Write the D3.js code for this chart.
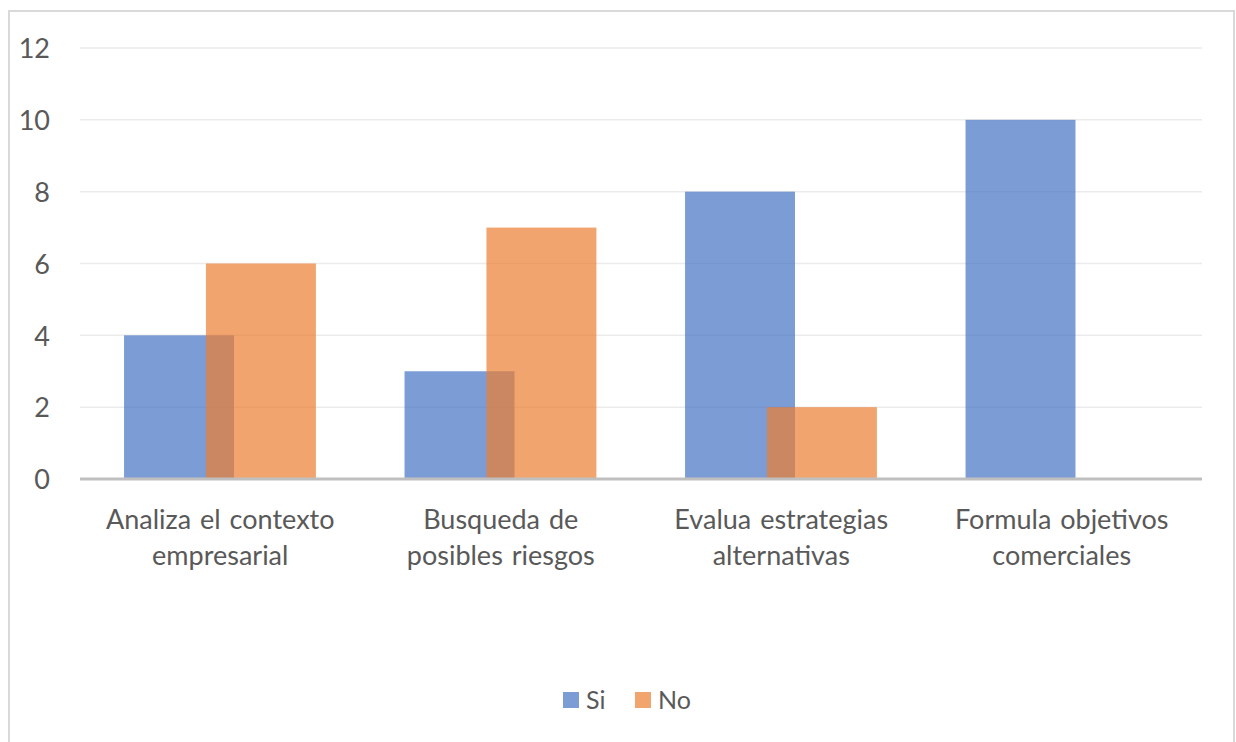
<!DOCTYPE html>
<html><head><meta charset="utf-8">
<script src="https://cdn.jsdelivr.net/npm/d3@7"></script>
<style>body{margin:0;background:#fff;} svg{display:block;} text{font-family:Lato,"Open Sans",sans-serif;fill:#595959;}</style>
</head><body>
<svg id="c" width="1236" height="742"></svg>
<script>
const categories = [["Analiza el contexto","empresarial"],["Busqueda de","posibles riesgos"],["Evalua estrategias","alternativas"],["Formula objetivos","comerciales"]];
const siValues = [4, 3, 8, 10];
const noValues = [6, 7, 2, 0];
const seriesNames = ["Si", "No"];
const yTicks = [0, 2, 4, 6, 8, 10, 12];

const svg = d3.select("#c");
// outer frame
svg.append("rect").attr("x",9).attr("y",11).attr("width",1225).attr("height",760)
  .attr("fill","none").attr("stroke","#d9d9d9").attr("stroke-width",2);

const plotL = 80, plotR = 1202, plotT = 48, plotB = 479;
const x = d3.scaleBand().domain(d3.range(categories.length)).range([plotL, plotR]).paddingInner(0).paddingOuter(0);
const y = d3.scaleLinear().domain([0, 12]).range([plotB, plotT]);

const step = x.bandwidth();
const barW = step * 0.392;
const pad = step * 0.157;
const shift = step * 0.292;

// gridlines
svg.append("g").selectAll("line").data(yTicks.filter(d=>d>0)).join("line")
  .attr("x1",plotL).attr("x2",plotR).attr("y1",d=>y(d)).attr("y2",d=>y(d))
  .attr("stroke","#ebebeb").attr("stroke-width",1.5);

// y-axis labels
const yAxis = d3.axisLeft(y).tickValues(yTicks).tickSize(0).tickPadding(0);
const ya = svg.append("g").attr("transform",`translate(50,0)`).call(yAxis);
ya.select(".domain").remove();
ya.selectAll("text").style("font-size","27px").attr("fill","#595959").attr("dy","0.36em")
  .style("font-family","Lato, sans-serif");

const colors = ["#4472C4", "#ED7D31"];
const seriesData = [siValues, noValues];
seriesData.forEach((vals, s) => {
  svg.append("g").selectAll("rect").data(vals).join("rect")
    .attr("x",(d,i)=>x(i)+pad+s*shift)
    .attr("width",barW)
    .attr("y",d=>y(d))
    .attr("height",d=>y(0)-y(d))
    .attr("fill",colors[s]).attr("fill-opacity",0.7);
});

// x axis line
svg.append("line").attr("x1",plotL).attr("x2",plotR).attr("y1",y(0)).attr("y2",y(0))
  .attr("stroke","#bfbfbf").attr("stroke-width",3);

// category labels
const cl = svg.append("g").selectAll("text").data(categories).join("text")
  .attr("text-anchor","middle").style("font-size","27px").style("word-spacing","2px");
cl.each(function(lines,i){
  const t = d3.select(this);
  lines.forEach((ln,k)=>{
    t.append("tspan").attr("x",x(i)+step/2).attr("y",529+k*36).text(ln);
  });
});

// legend
const legX = [563, 635];
const lg = svg.append("g");
seriesNames.forEach((n,s)=>{
  lg.append("rect").attr("x",legX[s]).attr("y",692).attr("width",16).attr("height",16)
    .attr("fill",colors[s]).attr("fill-opacity",0.7);
  lg.append("text").attr("x",legX[s]+23).attr("y",709).style("font-size","25px").text(n);
});
</script>
</body></html>
